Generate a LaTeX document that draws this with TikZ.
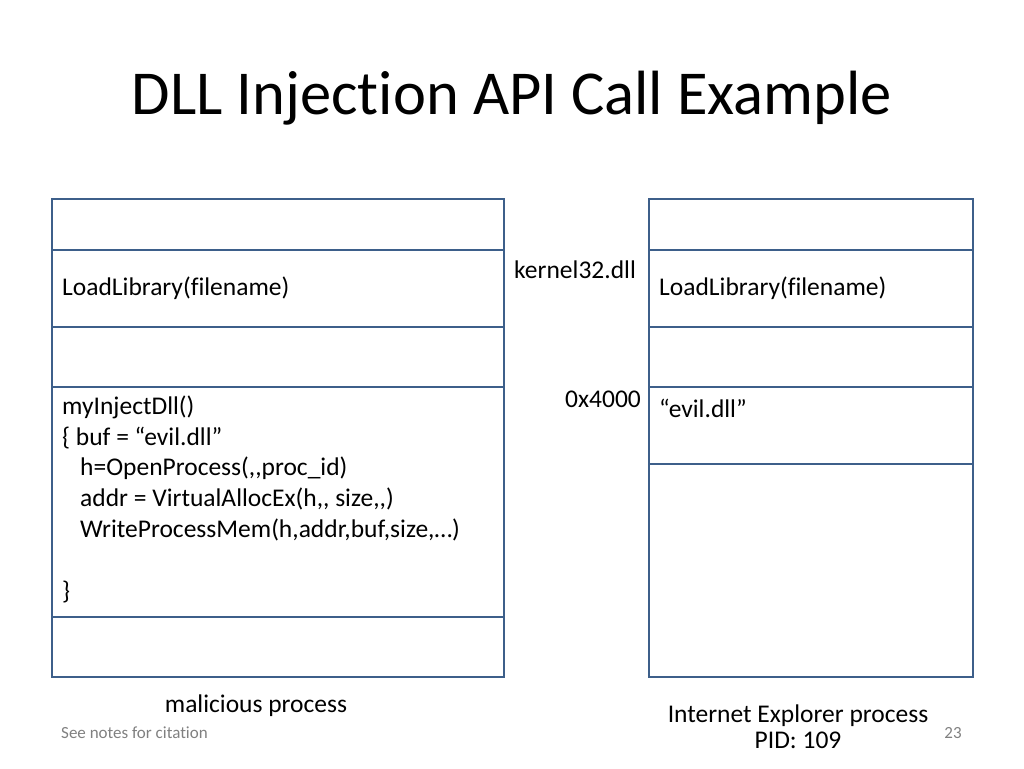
\documentclass[tikz,border=0pt]{standalone}
\usepackage{fontspec}
\setmainfont{Carlito}[Ligatures=NoCommon]
\begin{document}
\begin{tikzpicture}[x=1pt,y=-1pt,
  box/.style={draw=frame,line width=2pt,inner sep=0,anchor=north west},
  lbl/.style={anchor=west,inner sep=0,font=\fontsize{25.5}{30}\selectfont},
  small/.style={inner sep=0,font=\fontsize{17}{20}\selectfont,text=gray}]
\definecolor{frame}{HTML}{3D5F8A}
\useasboundingbox (0,0) rectangle (1024,768);
\node[inner sep=0,font=\fontsize{62.5}{70}\selectfont] (title) at (512,98) {DLL Injection API Call Example};
% left process
\node[box,minimum width=452,minimum height=51] (l1) at (51,198) {};
\node[box,minimum width=452,minimum height=77] (l2) at (51,249) {};
\node[box,minimum width=452,minimum height=60] (l3) at (51,326) {};
\node[box,minimum width=452,minimum height=230] (l4) at (51,386) {};
\node[box,minimum width=452,minimum height=60] (l5) at (51,616) {};
% right process
\node[box,minimum width=324,minimum height=51] (r1) at (648,198) {};
\node[box,minimum width=324,minimum height=77] (r2) at (648,249) {};
\node[box,minimum width=324,minimum height=60] (r3) at (648,326) {};
\node[box,minimum width=324,minimum height=77] (r4) at (648,386) {};
\node[box,minimum width=324,minimum height=213] (r5) at (648,463) {};
% labels
\node[lbl] (ll) at (62,288) {LoadLibrary(filename)};
\node[lbl] (rl) at (659,288) {LoadLibrary(filename)};
\node[lbl] (k32) at (514,270) {kernel32.dll};
\node[lbl] (addr) at (565,399) {0x4000};
\node[lbl] (ev) at (659,408) {“evil.dll”};
\node[lbl] (c1) at (62,407) {myInjectDll()};
\node[lbl] (c2) at (62,438) {\{ buf = “evil.dll”};
\node[lbl] (c3) at (80,468) {h=OpenProcess({,}{,}proc\_id)};
\node[lbl] (c4) at (80,499) {addr = VirtualAllocEx(h{,}{,} size{,}{,})};
\node[lbl] (c5) at (80,530) {WriteProcessMem(h,addr,buf,size,…)};
\node[lbl] (c6) at (62,592) {\}};
\node[inner sep=0,font=\fontsize{25.5}{30}\selectfont] (mp) at (256,706) {malicious process};
\node[inner sep=0,font=\fontsize{25.5}{26}\selectfont,align=center] (ie) at (798,727) {Internet Explorer process\\PID: 109};
\node[small,anchor=west] (see) at (61,733) {See notes for citation};
\node[small] (pg) at (953,733) {23};
\end{tikzpicture}
\end{document}
